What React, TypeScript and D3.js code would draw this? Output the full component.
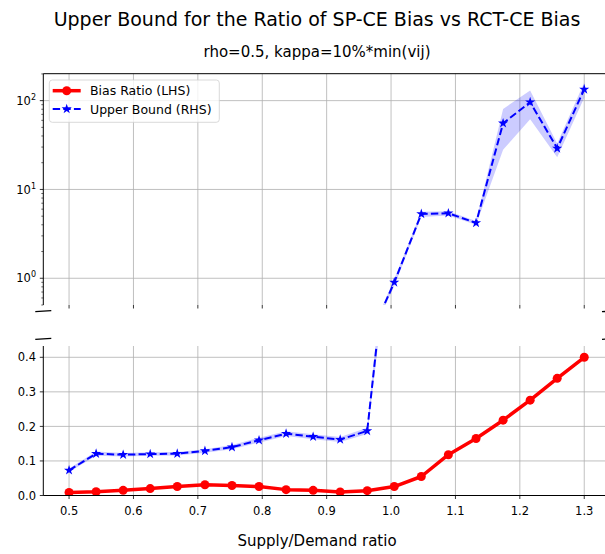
import React from 'react';
import * as d3 from 'd3';

// ---- data ----
const supplyDemand = [0.5, 0.542, 0.584, 0.626, 0.668, 0.711, 0.753, 0.795, 0.837, 0.879, 0.921, 0.963, 1.005, 1.047, 1.089, 1.132, 1.174, 1.216, 1.258, 1.3];
const biasRatio = [0.009, 0.011, 0.015, 0.02, 0.026, 0.031, 0.029, 0.026, 0.017, 0.015, 0.01, 0.014, 0.026, 0.055, 0.118, 0.165, 0.218, 0.276, 0.339, 0.4];
const upperBound = [0.073, 0.121, 0.118, 0.12, 0.121, 0.129, 0.14, 0.16, 0.179, 0.17, 0.162, 0.187, 0.9, 5.3, 5.4, 4.2, 55.6, 96, 29, 134];
const upperBoundLow = [0.068, 0.115, 0.113, 0.115, 0.116, 0.124, 0.134, 0.153, 0.172, 0.163, 0.155, 0.178, 0.82, 4.9, 5.1, 4.0, 27.9, 61.8, 23, 108];
const upperBoundHigh = [0.078, 0.127, 0.123, 0.125, 0.126, 0.134, 0.146, 0.167, 0.186, 0.177, 0.169, 0.196, 0.98, 5.6, 5.7, 4.4, 80.7, 130, 33, 160];

const xTicks = [0.5, 0.6, 0.7, 0.8, 0.9, 1.0, 1.1, 1.2, 1.3];
const topYTicks = [1, 10, 100];
const topYTickExp = ['0', '1', '2'];
const bottomYTicks = [0, 0.1, 0.2, 0.3, 0.4];

const titleText = 'Upper Bound for the Ratio of SP-CE Bias vs RCT-CE Bias';
const subtitleText = 'rho=0.5, kappa=10%*min(vij)';
const xLabelText = 'Supply/Demand ratio';
const legendLabels = ['Bias Ratio (LHS)', 'Upper Bound (RHS)'];

// ---- layout ----
const W = 605;
const H = 554;
const left = 43.3;
const right = 610;
const topT = 73.7;
const topB = 305;
const botT = 346;
const botB = 495.5;
const FONT = 'DejaVu Sans, sans-serif';
const GRID = '#b0b0b0';
const RED = '#ff0000';
const BLUE = '#0000ff';
const TICK_FS = 11.5;

export default function App() {
  const x = d3.scaleLinear().domain([0.46, 1.34]).range([left, right]);
  const yTop = d3.scaleLog().domain([0.5, 201]).range([topB, topT]);
  const yBot = d3.scaleLinear().domain([0, 0.4327]).range([botB, botT]);

  const idx = supplyDemand.map((_, i) => i);

  const lineTop = d3.line<number>().x(i => x(supplyDemand[i])).y(i => yTop(upperBound[i]))(idx) || '';
  const lineBot = d3.line<number>().x(i => x(supplyDemand[i])).y(i => yBot(upperBound[i]))(idx) || '';
  const redBot = d3.line<number>().x(i => x(supplyDemand[i])).y(i => yBot(biasRatio[i]))(idx) || '';
  const redTop = d3.line<number>().x(i => x(supplyDemand[i])).y(i => yTop(Math.max(biasRatio[i], 0.001)))(idx) || '';
  const bandTop = d3.area<number>().x(i => x(supplyDemand[i])).y0(i => yTop(upperBoundLow[i])).y1(i => yTop(upperBoundHigh[i]))(idx) || '';
  const bandBot = d3.area<number>().x(i => x(supplyDemand[i])).y0(i => yBot(upperBoundLow[i])).y1(i => yBot(upperBoundHigh[i]))(idx) || '';

  const star = d3.symbol(d3.symbolStar, 32)() || '';

  // minor log ticks
  const minorTicks: number[] = [];
  [0.1, 1, 10, 100].forEach(dec => {
    for (let k = 2; k <= 9; k++) {
      const v = dec * k;
      if (v >= 0.5 && v <= 201) minorTicks.push(v);
    }
  });

  const dash = '7.4,3.2';

  return (
    <svg width={W} height={H} style={{ position: 'absolute', left: 0, top: 0, background: '#fff' }} fontFamily={FONT}>
      <defs>
        <clipPath id="clipTop"><rect x={left} y={topT} width={right - left} height={topB - topT} /></clipPath>
        <clipPath id="clipBot"><rect x={left} y={botT} width={right - left} height={botB - botT} /></clipPath>
      </defs>
      <rect x={0} y={0} width={W} height={H} fill="#fff" />

      {/* titles */}
      <text x={317} y={26} textAnchor="middle" fontSize={19} fill="#000">{titleText}</text>
      <text x={317} y={57} textAnchor="middle" fontSize={15} fill="#000">{subtitleText}</text>
      <text x={317} y={546} textAnchor="middle" fontSize={15} fill="#000">{xLabelText}</text>

      {/* ---- top panel ---- */}
      <g>
        {xTicks.map(t => (
          <line key={'tg' + t} x1={x(t)} x2={x(t)} y1={topT} y2={topB} stroke={GRID} strokeWidth={0.8} />
        ))}
        {topYTicks.map(t => (
          <line key={'tyg' + t} x1={left} x2={right} y1={yTop(t)} y2={yTop(t)} stroke={GRID} strokeWidth={0.8} />
        ))}
        <g clipPath="url(#clipTop)">
          <path d={bandTop} fill={BLUE} fillOpacity={0.2} stroke="none" />
          <path d={lineTop} fill="none" stroke={BLUE} strokeWidth={2} strokeDasharray={dash} />
          {idx.map(i => (
            <path key={'st' + i} d={star} transform={`translate(${x(supplyDemand[i])},${yTop(upperBound[i])})`} fill={BLUE} />
          ))}
          <path d={redTop} fill="none" stroke={RED} strokeWidth={3.5} />
        </g>
        {/* spines */}
        <line x1={left} x2={left} y1={topT} y2={topB} stroke="#000" strokeWidth={1} />
        <line x1={left} x2={right} y1={topT} y2={topT} stroke="#000" strokeWidth={1} />
        <line x1={right} x2={right} y1={topT} y2={topB} stroke="#000" strokeWidth={1} />
        {/* y ticks */}
        {topYTicks.map((t, k) => (
          <g key={'ty' + t}>
            <line x1={left - 3.5} x2={left} y1={yTop(t)} y2={yTop(t)} stroke="#000" strokeWidth={0.8} />
            <text x={36} y={yTop(t) + 4.2} textAnchor="end" fontSize={TICK_FS} fill="#000">
              10<tspan dy={-5} fontSize={8}>{topYTickExp[k]}</tspan>
            </text>
          </g>
        ))}
        {minorTicks.map(t => (
          <line key={'mt' + t} x1={left - 2} x2={left} y1={yTop(t)} y2={yTop(t)} stroke="#000" strokeWidth={0.6} />
        ))}
        {/* x ticks (no labels) */}
        {xTicks.map(t => (
          <line key={'txt' + t} x1={x(t)} x2={x(t)} y1={topB} y2={topB + 3.5} stroke="#000" strokeWidth={0.8} />
        ))}
      </g>

      {/* ---- bottom panel ---- */}
      <g>
        {xTicks.map(t => (
          <line key={'bg' + t} x1={x(t)} x2={x(t)} y1={botT} y2={botB} stroke={GRID} strokeWidth={0.8} />
        ))}
        {bottomYTicks.map(t => (
          <line key={'byg' + t} x1={left} x2={right} y1={yBot(t)} y2={yBot(t)} stroke={GRID} strokeWidth={0.8} />
        ))}
        <g clipPath="url(#clipBot)">
          <path d={bandBot} fill={BLUE} fillOpacity={0.2} stroke="none" />
          <path d={lineBot} fill="none" stroke={BLUE} strokeWidth={2} strokeDasharray={dash} />
          {idx.map(i => (
            <path key={'sb' + i} d={star} transform={`translate(${x(supplyDemand[i])},${yBot(upperBound[i])})`} fill={BLUE} />
          ))}
          <path d={redBot} fill="none" stroke={RED} strokeWidth={3.5} strokeLinejoin="round" />
          {idx.map(i => (
            <circle key={'rc' + i} cx={x(supplyDemand[i])} cy={yBot(biasRatio[i])} r={4.5} fill={RED} />
          ))}
        </g>
        <line x1={left} x2={left} y1={botT} y2={botB} stroke="#000" strokeWidth={1} />
        <line x1={left} x2={right} y1={botB} y2={botB} stroke="#000" strokeWidth={1} />
        <line x1={right} x2={right} y1={botT} y2={botB} stroke="#000" strokeWidth={1} />
        {bottomYTicks.map(t => (
          <g key={'by' + t}>
            <line x1={left - 3.5} x2={left} y1={yBot(t)} y2={yBot(t)} stroke="#000" strokeWidth={0.8} />
            <text x={36} y={yBot(t) + 4.2} textAnchor="end" fontSize={TICK_FS} fill="#000">{t.toFixed(1)}</text>
          </g>
        ))}
        {xTicks.map(t => (
          <g key={'bx' + t}>
            <line x1={x(t)} x2={x(t)} y1={botB} y2={botB + 3.5} stroke="#000" strokeWidth={0.8} />
            <text x={x(t)} y={514.5} textAnchor="middle" fontSize={TICK_FS} fill="#000">{t.toFixed(1)}</text>
          </g>
        ))}
      </g>

      {/* break marks */}
      {[left, right].map(cx => (
        <g key={'bm' + cx}>
          <line x1={cx - 8} x2={cx + 8} y1={311.7} y2={310.7} stroke="#000" strokeWidth={1.3} />
          <line x1={cx - 8} x2={cx + 8} y1={339.3} y2={338.3} stroke="#000" strokeWidth={1.3} />
        </g>
      ))}

      {/* legend */}
      <g>
        <rect x={49.3} y={80} width={170} height={42.3} rx={3} fill="#fff" fillOpacity={0.8} stroke="#d0d0d0" strokeWidth={0.8} />
        <line x1={52.7} x2={80.7} y1={90.7} y2={90.7} stroke={RED} strokeWidth={3.5} />
        <circle cx={66.7} cy={90.7} r={4.5} fill={RED} />
        <text x={90} y={95.2} fontSize={12.5} fill="#000">{legendLabels[0]}</text>
        <line x1={52.7} x2={80.7} y1={109} y2={109} stroke={BLUE} strokeWidth={2} strokeDasharray={dash} />
        <path d={star} transform="translate(66.7,109)" fill={BLUE} />
        <text x={90} y={113.5} fontSize={12.5} fill="#000">{legendLabels[1]}</text>
      </g>
    </svg>
  );
}
